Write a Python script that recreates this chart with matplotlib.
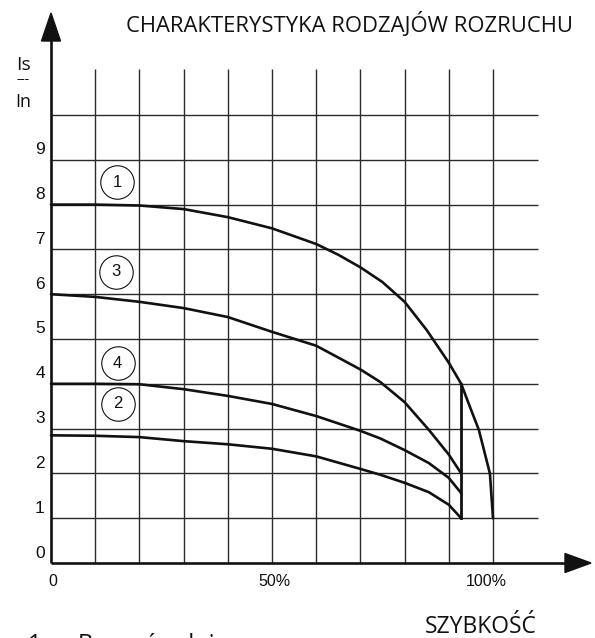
import matplotlib
matplotlib.use("Agg")
import matplotlib.pyplot as plt
import matplotlib.transforms as mtransforms
from matplotlib.patches import Polygon

# Starting-current curves: motor speed (% of nominal) vs. current ratio Is/In
speed_1 = [0, 10, 20, 30, 40, 50, 60, 65, 70, 75, 80, 85, 90, 92.8, 94.8, 96.8, 99.3, 100]
ratio_1 = [8.0, 8.0, 7.98, 7.9, 7.72, 7.47, 7.12, 6.88, 6.6, 6.27, 5.83, 5.2, 4.47, 4.0, 3.48, 2.97, 2.0, 1.0]

speed_3 = [0, 10, 20, 30, 40, 50, 60, 70, 74.5, 80, 85.5, 90, 92.8]
ratio_3 = [6.0, 5.94, 5.83, 5.69, 5.49, 5.16, 4.85, 4.32, 4.04, 3.59, 2.97, 2.42, 2.0]

speed_4 = [0, 10, 20, 30, 40, 50, 60, 70, 74.5, 80, 85.5, 90, 92.8]
ratio_4 = [4.0, 4.0, 3.99, 3.88, 3.73, 3.55, 3.28, 2.95, 2.78, 2.52, 2.23, 1.90, 1.56]

speed_2 = [0, 10, 20, 30, 40, 50, 60, 70, 74.5, 80, 85.5, 90, 92.8]
ratio_2 = [2.85, 2.84, 2.81, 2.72, 2.65, 2.55, 2.38, 2.10, 1.97, 1.79, 1.58, 1.30, 1.0]

# switch-over speed and the current range of the vertical jump
switch_speed = 92.8
switch_ratio = [1.0, 4.0]

# curve markers (number, speed, ratio)
marker_names = ["1", "2", "3", "4"]
marker_speed = [15.0, 15.1, 14.7, 15.1]
marker_ratio = [8.5, 3.55, 6.5, 4.46]

y_ticks = [0, 1, 2, 3, 4, 5, 6, 7, 8, 9]
y_tick_labels = ["0", "1", "2", "3", "4", "5", "6", "7", "8", "9"]
x_ticks = [0, 50, 100]
x_tick_labels = ["0", "50%", "100%"]

grid_x = [10, 20, 30, 40, 50, 60, 70, 80, 90, 100]
grid_y = [1, 2, 3, 4, 5, 6, 7, 8, 9, 10]

title = "CHARAKTERYSTYKA RODZAJÓW ROZRUCHU"
x_title = "SZYBKOŚĆ"

# ---- page geometry (pixels) ----
W, H = 595, 638
X0, XS = 51.0, 4.42      # x pixel of 0 %, pixels per 1 %
Y0, YS = 563.0, 44.8     # y pixel (from top) of 0, pixels per unit


def px_x(p):
    return (p - X0) / XS


def px_y(p):
    return (Y0 - p) / YS


fig = plt.figure(figsize=(W / 100, H / 100), dpi=100)
ax = fig.add_axes([0, 0, 1, 1])
ax.set_xlim(px_x(0), px_x(W))
ax.set_ylim(px_y(H), px_y(0))
ax.axis("off")

ink = "#111111"
grid_col = "#2a2a2a"

# grid
grid_top = px_y(69)
grid_right = px_x(538)
for gx in grid_x:
    ax.plot([gx, gx], [0, grid_top], color=grid_col, lw=1.0, solid_capstyle="butt", zorder=1)
for gy in grid_y:
    ax.plot([0, grid_right], [gy, gy], color=grid_col, lw=1.0, solid_capstyle="butt", zorder=1)

# axes with arrow heads
ax.plot([0, 0], [0, px_y(40)], color=ink, lw=1.9, solid_capstyle="butt", zorder=3)
ax.plot([0, px_x(566)], [0, 0], color=ink, lw=1.9, solid_capstyle="butt", zorder=3)
ax.add_patch(Polygon([[px_x(X0 - 9.5), px_y(41)], [px_x(X0 + 9.5), px_y(41)], [0, px_y(13)]],
                     closed=True, color=ink, zorder=3))
ax.add_patch(Polygon([[px_x(565), px_y(Y0 - 9.5)], [px_x(565), px_y(Y0 + 9.5)],
                      [px_x(591), 0]], closed=True, color=ink, zorder=3))

# curves
for sp, rt in [(speed_1, ratio_1), (speed_3, ratio_3), (speed_4, ratio_4), (speed_2, ratio_2)]:
    ax.plot(sp, rt, color=ink, lw=1.9, solid_capstyle="round", solid_joinstyle="round", zorder=4)
ax.plot([switch_speed, switch_speed], switch_ratio, color=ink, lw=2.0, zorder=4)

# numbered circles
ax.scatter(marker_speed, marker_ratio, s=580, facecolor="white", edgecolor=ink,
           linewidths=0.8, zorder=5)
for name, sx, sy in zip(marker_names, marker_speed, marker_ratio):
    ax.text(sx, sy, name, ha="center", va="center", fontsize=12,
            family="Liberation Sans", color=ink, zorder=6)

# tick labels
lab_y = mtransforms.offset_copy(ax.transData, fig=fig, x=0, y=10, units="dots")
for v, lab in zip(y_ticks, y_tick_labels):
    ax.text(px_x(40), v, lab, ha="center", va="center", fontsize=12.5,
            family="Liberation Sans", color=ink, transform=lab_y)
x_shift = [1.5, 2.0, -7.0]
for v, lab, dx in zip(x_ticks, x_tick_labels, x_shift):
    t = mtransforms.offset_copy(ax.transData, fig=fig, x=dx, y=0, units="dots")
    ax.text(v, px_y(581), lab, ha="center", va="center", fontsize=11.5,
            family="Liberation Sans", color=ink, transform=t)

# axis titles
ax.text(px_x(24), px_y(65), "Is", ha="center", va="center", fontsize=14,
        family="Open Sans", color=ink)
ax.text(px_x(23), px_y(80), "---", ha="center", va="center", fontsize=10,
        family="Open Sans", color=ink)
ax.text(px_x(23), px_y(102), "In", ha="center", va="center", fontsize=13,
        family="Open Sans", color=ink)

ax.text(px_x(350), px_y(25), title, ha="center", va="center", fontsize=15.8,
        family="Open Sans", color=ink)
ax.text(px_x(481), px_y(633), x_title, ha="center", va="baseline", fontsize=16.5,
        family="Open Sans", color=ink)

# legend line at the page foot
ax.text(px_x(28), px_y(651), "1", ha="left", va="baseline", fontsize=17,
        family="Open Sans", color=ink)
ax.text(px_x(48), px_y(651), "–", ha="left", va="baseline", fontsize=17,
        family="Open Sans", color=ink)
ax.text(px_x(78), px_y(651), "Bezpośredni", ha="left", va="baseline", fontsize=17,
        family="Open Sans", color=ink)

fig.savefig("out.png", dpi=100)
